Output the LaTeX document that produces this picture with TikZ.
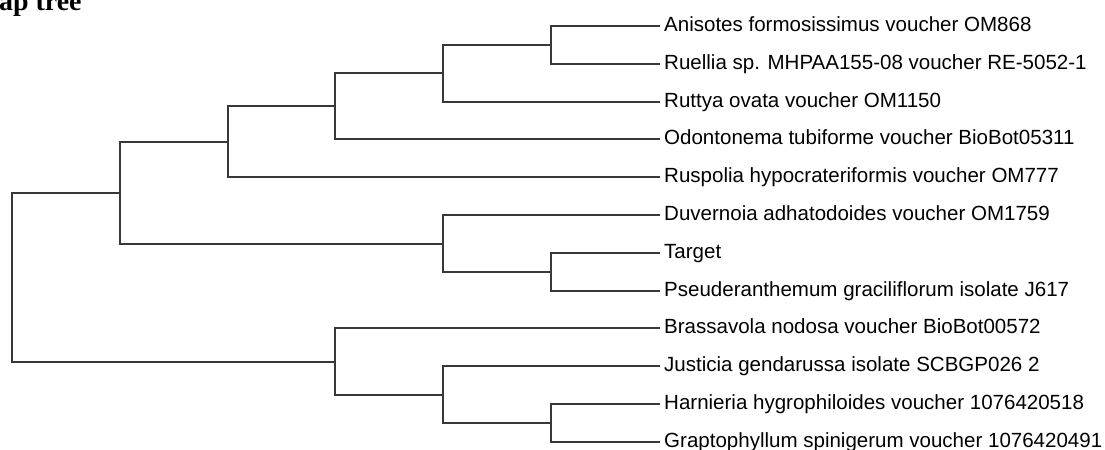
\documentclass[tikz,border=0pt]{standalone}
\usepackage{fontspec}
\setmainfont{Liberation Sans}
\newfontfamily\titlefont{Liberation Serif}
\tikzset{
  branch/.style={line width=2bp, draw=black!78, line cap=rect},
  leaf/.style={anchor=west, inner xsep=5bp, inner ysep=0pt,
    text height=14bp, text depth=3.4bp, font=\fontsize{20.6}{24}\selectfont}
}

\begin{document}
\begin{tikzpicture}[x=1bp, y=-1bp]
\useasboundingbox (0,0) rectangle (1105,450);
\clip (0,0) rectangle (1105,450);
\node[anchor=base west, inner sep=0pt, font=\titlefont\bfseries\fontsize{28}{30}\selectfont] (title) at (-1,11) {ap tree};

% leaves
\foreach \name/\txt [count=\i] in {
  anis/Anisotes formosissimus voucher OM868,
  ruel/Ruellia sp. MHPAA155-08 voucher RE-5052-1,
  rutt/Ruttya ovata voucher OM1150,
  odon/Odontonema tubiforme voucher BioBot05311,
  rusp/Ruspolia hypocrateriformis voucher OM777,
  duve/Duvernoia adhatodoides voucher OM1759,
  targ/Target,
  pseu/Pseuderanthemum graciliflorum isolate J617,
  bras/Brassavola nodosa voucher BioBot00572,
  just/Justicia gendarussa isolate SCBGP026 2,
  harn/Harnieria hygrophiloides voucher 1076420518,
  grap/Graptophyllum spinigerum voucher 1076420491}
  \node[leaf] (\name) at (659, {round(26+37.8*(\i-1))}) {\txt};

% inner nodes
\coordinate (ar) at (551,45);
\coordinate (arr) at (443,73);
\coordinate (aro) at (335,106);
\coordinate (upper) at (228,142);
\coordinate (tp) at (551,272);
\coordinate (dtp) at (443,244);
\coordinate (top) at (120,193);
\coordinate (hg) at (551,423);
\coordinate (jhg) at (443,395);
\coordinate (low) at (335,362);
\coordinate (root) at (12,278);

\draw[branch] (ar) |- (anis.west);
\draw[branch] (ar) |- (ruel.west);
\draw[branch] (arr) |- (ar);
\draw[branch] (arr) |- (rutt.west);
\draw[branch] (aro) |- (arr);
\draw[branch] (aro) |- (odon.west);
\draw[branch] (upper) |- (aro);
\draw[branch] (upper) |- (rusp.west);
\draw[branch] (tp) |- (targ.west);
\draw[branch] (tp) |- (pseu.west);
\draw[branch] (dtp) |- (duve.west);
\draw[branch] (dtp) |- (tp);
\draw[branch] (top) |- (upper);
\draw[branch] (top) |- (dtp);
\draw[branch] (hg) |- (harn.west);
\draw[branch] (hg) |- (grap.west);
\draw[branch] (jhg) |- (just.west);
\draw[branch] (jhg) |- (hg);
\draw[branch] (low) |- (bras.west);
\draw[branch] (low) |- (jhg);
\draw[branch] (root) |- (top);
\draw[branch] (root) |- (low);
\end{tikzpicture}
\end{document}
